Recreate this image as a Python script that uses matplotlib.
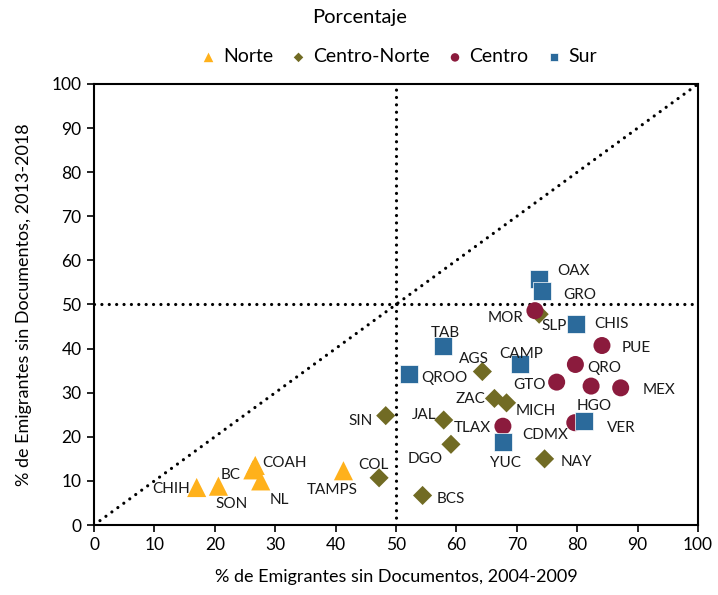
import matplotlib
matplotlib.use("Agg")
import matplotlib.pyplot as plt

plt.rcParams['font.family'] = ['Lato', 'DejaVu Sans']

# ---- data ----
norte_names = ["CHIH", "SON", "BC", "COAH", "NL", "TAMPS"]
norte_x = [17.0, 20.6, 26.3, 26.7, 27.6, 41.3]
norte_y = [8.5, 8.8, 12.5, 13.5, 10.0, 12.3]

cn_names = ["SIN", "COL", "BCS", "DGO", "JAL", "AGS", "ZAC", "MICH", "NAY", "SLP"]
cn_x = [48.3, 47.2, 54.4, 59.1, 57.9, 64.3, 66.3, 68.3, 74.6, 73.7]
cn_y = [24.8, 10.7, 6.7, 18.3, 23.8, 34.8, 28.7, 27.7, 15.0, 47.8]

centro_names = ["MOR", "PUE", "QRO", "GTO", "HGO", "MEX", "TLAX", "CDMX"]
centro_x = [73.0, 84.1, 79.7, 76.6, 82.3, 87.2, 67.7, 79.6]
centro_y = [48.6, 40.7, 36.4, 32.4, 31.5, 31.1, 22.4, 23.2]

sur_names = ["OAX", "GRO", "CHIS", "TAB", "CAMP", "QROO", "VER", "YUC"]
sur_x = [73.7, 74.1, 79.8, 57.7, 70.5, 52.1, 81.2, 67.7]
sur_y = [55.7, 53.1, 45.6, 40.7, 36.4, 34.2, 23.6, 18.9]

x_ticks = [0, 10, 20, 30, 40, 50, 60, 70, 80, 90, 100]
y_ticks = [0, 10, 20, 30, 40, 50, 60, 70, 80, 90, 100]

# label offsets (pixels: right, up)
label_off = {
    "CHIH": (-26, -1), "SON": (13, -18), "BC": (-22, -5), "COAH": (29, 2),
    "NL": (19, -19), "TAMPS": (-11, -19),
    "SIN": (-25, -5), "COL": (-6, 13), "BCS": (28, -4), "DGO": (-26, -15),
    "JAL": (-20, 5), "AGS": (-8, 13), "ZAC": (-24, -1), "MICH": (29, -8),
    "NAY": (32, -3), "SLP": (15, -12),
    "MOR": (-29, -7), "PUE": (34, -2), "QRO": (29, -4), "GTO": (-27, -3),
    "HGO": (3, -20), "MEX": (38, -2), "TLAX": (-31, -2), "CDMX": (-30, -12),
    "OAX": (34, 8), "GRO": (38, -4), "CHIS": (36, 0), "TAB": (3, 13),
    "CAMP": (1, 10), "QROO": (36, -4), "VER": (37, -7), "YUC": (3, -21),
}

c_norte = "#FFB11B"
c_cn = "#716B24"
c_centro = "#8B1B3D"
c_sur = "#2B6A9B"

fig = plt.figure(figsize=(7.18, 5.95), dpi=100)
ax = fig.add_axes([94/718, 1-525/595, (698-94)/718, (525-84)/595])

dot = dict(color="black", lw=2.3, linestyle=(0, (0.01, 2.3)), dash_capstyle="round", zorder=1)
ax.plot([0, 100], [0, 100], **dot)
ax.axhline(50, **dot)
ax.axvline(50, **dot)

ax.scatter(norte_x, norte_y, marker="^", s=190, color=c_norte, edgecolors="none", zorder=3, label="Norte")
ax.scatter(cn_x, cn_y, marker="D", s=95, color=c_cn, edgecolors="none", zorder=3, label="Centro-Norte")
ax.scatter(centro_x, centro_y, marker="o", s=150, color=c_centro, edgecolors="none", zorder=3, label="Centro")
ax.scatter(sur_x, sur_y, marker="s", s=150, color=c_sur, edgecolors="white", linewidths=0.5, zorder=3, label="Sur")

for names, xs, ys in [(norte_names, norte_x, norte_y), (cn_names, cn_x, cn_y),
                      (centro_names, centro_x, centro_y), (sur_names, sur_x, sur_y)]:
    for n, xv, yv in zip(names, xs, ys):
        dx, dy = label_off[n]
        ax.annotate(n, (xv, yv), xytext=(dx, dy), textcoords="offset pixels",
                    ha="center", va="center", fontsize=11, color="#1a1a1a", zorder=4)

ax.set_xlim(0, 100)
ax.set_ylim(0, 100)
ax.set_xticks(x_ticks)
ax.set_yticks(y_ticks)
ax.tick_params(direction="out", length=5, width=1.2, labelsize=12.5, pad=4)
for sp in ax.spines.values():
    sp.set_linewidth(1.5)

ax.set_xlabel("% de Emigrantes sin Documentos, 2004-2009", fontsize=13, labelpad=11)
ax.set_ylabel("% de Emigrantes sin Documentos, 2013-2018", fontsize=13, labelpad=14)

fig.text(360/718, 1-17/595, "Porcentaje", ha="center", va="center", fontsize=14.5)
fig.legend(loc="center", bbox_to_anchor=(398/718, 1-57/595), ncol=4, frameon=False,
           fontsize=14, markerscale=0.5, handletextpad=0.25, columnspacing=0.8,
           handlelength=1.0)

fig.savefig("out.png", dpi=100)
